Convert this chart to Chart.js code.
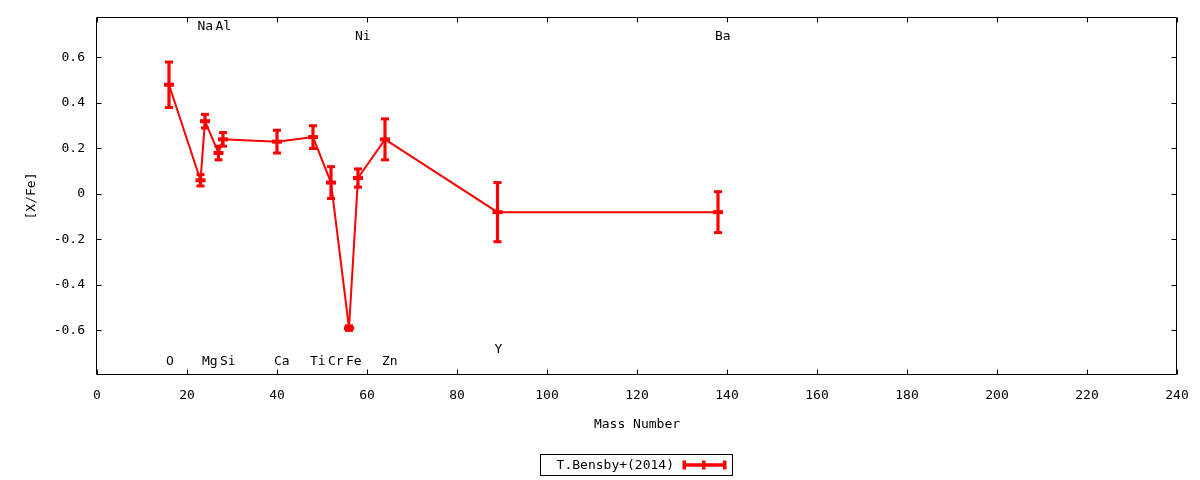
<!DOCTYPE html>
<html><head><meta charset="utf-8">
<script src="https://cdn.jsdelivr.net/npm/chart.js@4/dist/chart.umd.min.js"></script>
<style>html,body{margin:0;padding:0;background:#fff;} canvas{display:block;}</style>
</head><body>
<canvas id="c" width="1200" height="480"></canvas>
<script>
const elements = ['O','Na','Mg','Al','Si','Ca','Ti','Cr','Fe','Ni','Zn','Y','Ba'];
const massNumber = [16,23,24,27,28,40,48,52,56,58,64,89,138];
const xFe = [0.48,0.06,0.32,0.18,0.24,0.23,0.25,0.05,-0.59,0.07,0.24,-0.08,-0.08];
const xFeErr = [0.10,0.025,0.03,0.03,0.03,0.05,0.05,0.07,0.01,0.04,0.09,0.13,0.09];
const labelY = [-0.735,0.735,-0.735,0.735,-0.735,-0.735,-0.735,-0.735,-0.735,0.69,-0.735,-0.685,0.69];
const xTicks = [0,20,40,60,80,100,120,140,160,180,200,220,240];
const yTicks = [-0.6,-0.4,-0.2,0,0.2,0.4,0.6];
const seriesName = 'T.Bensby+(2014)';
const xTitle = 'Mass Number';
const yTitle = '[X/Fe]';

const FAMILY = 'DejaVu Sans Mono';
const FONT = '13px "DejaVu Sans Mono"';
const RED = '#ff0000';

const gnuplotPlugin = {
  id: 'gnuplotLook',
  beforeDatasetsDraw(chart) {
    const {ctx, chartArea: a, scales: {x, y}} = chart;
    ctx.save();
    ctx.strokeStyle = '#000';
    ctx.lineWidth = 1;
    ctx.beginPath();
    const L = a.left - 0.5, R = a.right - 0.5, T = a.top + 0.5, B = a.bottom - 0.5;
    ctx.rect(L, T, R - L, B - T);
    xTicks.forEach(v => {
      const px = Math.round(x.getPixelForValue(v)) + 0.5;
      ctx.moveTo(px, B); ctx.lineTo(px, B - 5);
      ctx.moveTo(px, T); ctx.lineTo(px, T + 5);
    });
    yTicks.forEach(v => {
      const py = Math.round(y.getPixelForValue(v)) + 0.5;
      ctx.moveTo(L, py); ctx.lineTo(L + 5, py);
      ctx.moveTo(R, py); ctx.lineTo(R - 5, py);
    });
    ctx.stroke();
    ctx.restore();
  },
  afterDatasetsDraw(chart) {
    const {ctx, scales: {x, y}} = chart;
    ctx.save();
    ctx.strokeStyle = RED;
    ctx.fillStyle = RED;
    massNumber.forEach((m, i) => {
      const px = x.getPixelForValue(m);
      const yt = y.getPixelForValue(xFe[i] + xFeErr[i]);
      const yb = y.getPixelForValue(xFe[i] - xFeErr[i]);
      const yc = y.getPixelForValue(xFe[i]);
      ctx.lineWidth = 3.2;
      ctx.beginPath();
      ctx.moveTo(px, yt); ctx.lineTo(px, yb);
      ctx.stroke();
      ctx.fillRect(px - 4, yt - 1.5, 8, 3);
      ctx.fillRect(px - 4, yb - 1.5, 8, 3);
      ctx.fillRect(px - 5, yc - 2, 10, 4);
    });
    ctx.fillStyle = '#000';
    ctx.font = FONT;
    ctx.textAlign = 'left';
    ctx.textBaseline = 'middle';
    elements.forEach((el, i) => {
      ctx.fillText(el, x.getPixelForValue(massNumber[i]) - 3, y.getPixelForValue(labelY[i]));
    });
    ctx.strokeStyle = '#000';
    ctx.lineWidth = 1;
    ctx.strokeRect(540.5, 454.5, 192, 21);
    ctx.textAlign = 'right';
    ctx.fillText(seriesName, 674, 465.5);
    ctx.strokeStyle = RED;
    ctx.fillStyle = RED;
    ctx.lineWidth = 3.5;
    ctx.beginPath();
    ctx.moveTo(683, 465); ctx.lineTo(726, 465);
    ctx.stroke();
    ctx.fillRect(682.5, 460.5, 3.5, 9);
    ctx.fillRect(723, 460.5, 3.5, 9);
    ctx.fillRect(702, 460.5, 3.5, 9);
    ctx.restore();
  }
};

new Chart(document.getElementById('c'), {
  type: 'line',
  data: {
    datasets: [{
      label: seriesName,
      data: massNumber.map((m, i) => ({x: m, y: xFe[i]})),
      borderColor: RED,
      backgroundColor: RED,
      borderWidth: 2,
      pointRadius: 0,
      tension: 0,
      fill: false
    }]
  },
  options: {
    responsive: false,
    animation: false,
    devicePixelRatio: 1,
    layout: {padding: {left: 0, top: 17, right: 23, bottom: 0}},
    plugins: {legend: {display: false}, tooltip: {enabled: false}},
    scales: {
      x: {
        type: 'linear', min: 0, max: 240,
        afterBuildTicks: s => { s.ticks = xTicks.map(v => ({value: v})); },
        afterFit: s => { s.height = 105; s.paddingLeft = 0; s.paddingRight = 0; },
        grid: {display: false, drawTicks: false},
        border: {display: false},
        ticks: {font: {family: FAMILY, size: 13}, color: '#000', padding: 13, maxRotation: 0, autoSkip: false},
        title: {display: true, text: xTitle, font: {family: FAMILY, size: 13}, color: '#000', padding: {top: 0, bottom: 48}}
      },
      y: {
        type: 'linear', min: -0.796, max: 0.778,
        afterBuildTicks: s => { s.ticks = yTicks.map(v => ({value: v})); },
        afterFit: s => { s.width = 97; s.paddingTop = 0; s.paddingBottom = 0; },
        grid: {display: false, drawTicks: false},
        border: {display: false},
        ticks: {font: {family: FAMILY, size: 13}, color: '#000', padding: 12,
          callback: v => String(Math.round(v * 10) / 10)},
        title: {display: true, text: yTitle, font: {family: FAMILY, size: 13}, color: '#000', padding: {top: 24, bottom: 0}}
      }
    }
  },
  plugins: [gnuplotPlugin]
});
</script>
</body></html>
